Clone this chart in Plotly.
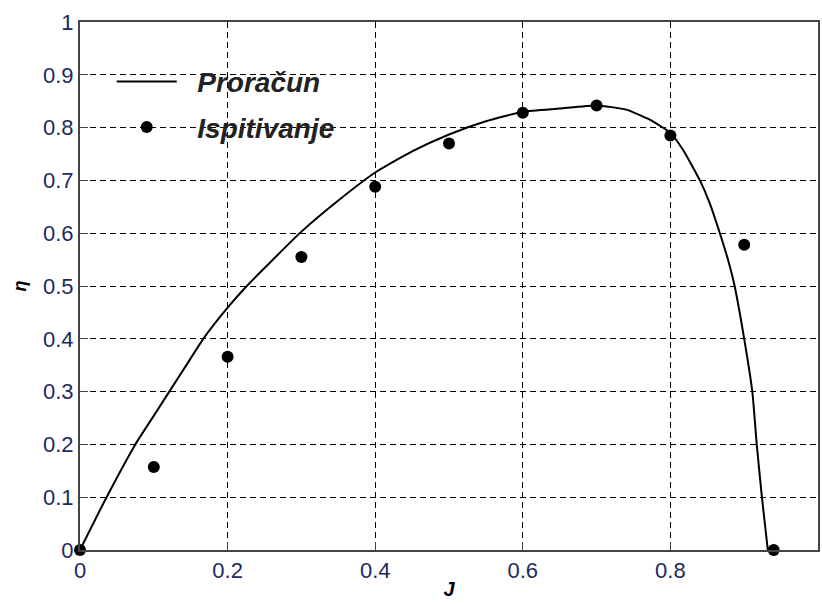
import plotly.graph_objects as go

# Calculated curve (Proračun)
calc_J = [0, 0.036, 0.075, 0.105, 0.121, 0.145, 0.167, 0.2, 0.226, 0.25, 0.3, 0.35,
          0.4, 0.45, 0.5, 0.55, 0.6, 0.65, 0.7, 0.74, 0.772, 0.8, 0.817, 0.84,
          0.853, 0.867, 0.878, 0.887, 0.9, 0.911, 0.917, 0.924, 0.932]
calc_eta = [0, 0.1, 0.2, 0.265, 0.3, 0.352, 0.4, 0.459, 0.5, 0.534, 0.603, 0.662,
            0.715, 0.755, 0.787, 0.812, 0.83, 0.836, 0.842, 0.834, 0.815, 0.79, 0.758, 0.70,
            0.658, 0.60, 0.55, 0.50, 0.4, 0.3, 0.2, 0.1, 0]

# Test results (Ispitivanje)
test_J = [0, 0.1, 0.2, 0.3, 0.4, 0.5, 0.6, 0.7, 0.8, 0.9, 0.94]
test_eta = [0, 0.157, 0.366, 0.555, 0.688, 0.77, 0.828, 0.842, 0.785, 0.578, 0]

x_ticks = [0, 0.2, 0.4, 0.6, 0.8, 1]
x_tick_labels = ["0", "0.2", "0.4", "0.6", "0.8", "1"]
y_ticks = [0, 0.1, 0.2, 0.3, 0.4, 0.5, 0.6, 0.7, 0.8, 0.9, 1]
y_tick_labels = ["0", "0.1", "0.2", "0.3", "0.4", "0.5", "0.6", "0.7", "0.8", "0.9", "1"]

FONT = "Liberation Sans, Arial, sans-serif"
TICK_COLOR = "#1c2a5e"
PAD = "\u00a0\u00a0"

fig = go.Figure()
fig.add_trace(go.Scatter(
    x=calc_J, y=calc_eta, mode="lines", name=PAD + "Proračun", legendgroup="a",
    line=dict(color="black", width=2, shape="spline", smoothing=0.5), cliponaxis=False,
))
fig.add_trace(go.Scatter(
    x=test_J, y=test_eta, mode="markers", name=PAD + "Ispitivanje", legendgroup="b",
    marker=dict(color="black", size=12), cliponaxis=False,
))

axis_common = dict(
    showgrid=True, gridcolor="black", gridwidth=1, griddash="6px,4px",
    showline=True, linecolor="#444444", linewidth=2, mirror=True,
    ticks="inside", ticklen=8, tickcolor="#444444",
    zeroline=False, automargin=False,
    tickfont=dict(family=FONT, size=22, color=TICK_COLOR),
)

fig.update_xaxes(range=[0, 1], tickvals=x_ticks, ticktext=x_tick_labels,
                 title=dict(text="J", font=dict(family=FONT, size=20, color="black",
                                                weight="bold", style="italic"),
                            standoff=0),
                 **axis_common)
fig.update_yaxes(range=[0, 1], tickvals=y_ticks, ticktext=y_tick_labels,
                 title=dict(text="η", font=dict(family=FONT, size=18, color="black",
                                                weight="bold", style="italic"),
                            standoff=12),
                 **axis_common)

fig.update_layout(
    width=822, height=604,
    margin=dict(l=80, r=4, t=22, b=54, autoexpand=False),
    plot_bgcolor="white", paper_bgcolor="white",
    showlegend=True,
    legend=dict(
        x=0.043, y=0.934, xanchor="left", yanchor="top",
        bgcolor="rgba(255,255,255,0)", borderwidth=0,
        itemwidth=60, tracegroupgap=6,
        font=dict(family=FONT, size=28, color="#222222", weight="bold", style="italic"),
    ),
)

fig.write_html(
    "out.html",
    config={"displayModeBar": False},
    post_script="document.body.style.margin='0';document.body.style.overflow='hidden';",
)
